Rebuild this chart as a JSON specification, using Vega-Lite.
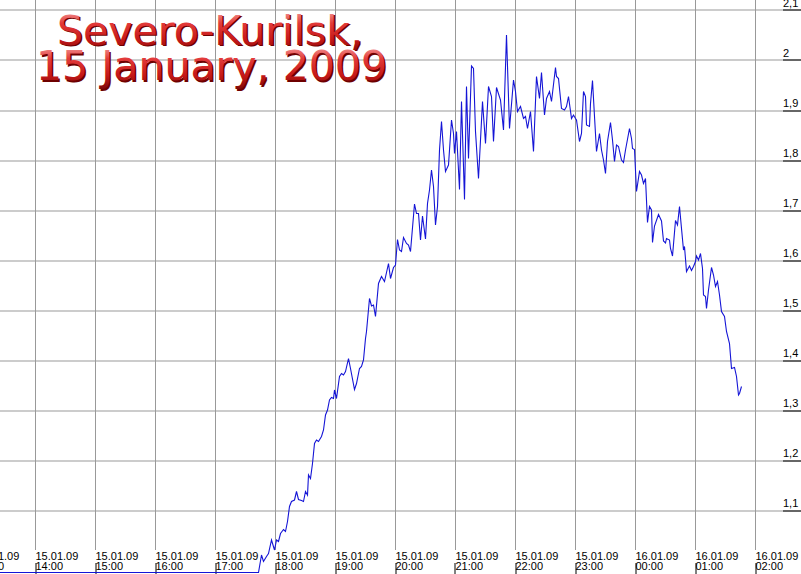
{
  "$schema": "https://vega.github.io/schema/vega-lite/v6.json",
  "width": 801,
  "height": 574,
  "autosize": {"type": "none"},
  "padding": 0,
  "background": "white",
  "config": {
    "view": {"stroke": null},
    "axis": {"translate": 0, "labelFont": "Liberation Sans", "labelFontSize": 11, "labelColor": "#000", "domain": false}
  },
  "datasets": {
    "hours": [
      {"t": "2009-01-15T14:00"}, {"t": "2009-01-15T15:00"}, {"t": "2009-01-15T16:00"}, {"t": "2009-01-15T17:00"},
      {"t": "2009-01-15T18:00"}, {"t": "2009-01-15T19:00"}, {"t": "2009-01-15T20:00"}, {"t": "2009-01-15T21:00"},
      {"t": "2009-01-15T22:00"}, {"t": "2009-01-15T23:00"}, {"t": "2009-01-16T00:00"}, {"t": "2009-01-16T01:00"},
      {"t": "2009-01-16T02:00"}
    ],
    "level": [
      {"t": "2009-01-15T13:20", "v": 0.976}, {"t": "2009-01-15T17:43", "v": 0.976}, {"t": "2009-01-15T17:46", "v": 1.011},
      {"t": "2009-01-15T17:48", "v": 0.998}, {"t": "2009-01-15T17:51", "v": 1.008}, {"t": "2009-01-15T17:53", "v": 1.014},
      {"t": "2009-01-15T17:56", "v": 1.041}, {"t": "2009-01-15T17:59", "v": 1.021}, {"t": "2009-01-15T18:01", "v": 1.041},
      {"t": "2009-01-15T18:03", "v": 1.038}, {"t": "2009-01-15T18:05", "v": 1.054}, {"t": "2009-01-15T18:08", "v": 1.062},
      {"t": "2009-01-15T18:10", "v": 1.058}, {"t": "2009-01-15T18:12", "v": 1.078}, {"t": "2009-01-15T18:14", "v": 1.108},
      {"t": "2009-01-15T18:16", "v": 1.118}, {"t": "2009-01-15T18:19", "v": 1.121}, {"t": "2009-01-15T18:21", "v": 1.138},
      {"t": "2009-01-15T18:23", "v": 1.122}, {"t": "2009-01-15T18:26", "v": 1.120}, {"t": "2009-01-15T18:28", "v": 1.118},
      {"t": "2009-01-15T18:30", "v": 1.138}, {"t": "2009-01-15T18:32", "v": 1.131}, {"t": "2009-01-15T18:33", "v": 1.171},
      {"t": "2009-01-15T18:35", "v": 1.164}, {"t": "2009-01-15T18:37", "v": 1.194}, {"t": "2009-01-15T18:39", "v": 1.234},
      {"t": "2009-01-15T18:41", "v": 1.241}, {"t": "2009-01-15T18:43", "v": 1.238}, {"t": "2009-01-15T18:46", "v": 1.248},
      {"t": "2009-01-15T18:48", "v": 1.261}, {"t": "2009-01-15T18:50", "v": 1.291}, {"t": "2009-01-15T18:52", "v": 1.301},
      {"t": "2009-01-15T18:54", "v": 1.321}, {"t": "2009-01-15T18:56", "v": 1.326}, {"t": "2009-01-15T18:58", "v": 1.324},
      {"t": "2009-01-15T18:59", "v": 1.341}, {"t": "2009-01-15T19:01", "v": 1.324}, {"t": "2009-01-15T19:04", "v": 1.368},
      {"t": "2009-01-15T19:06", "v": 1.374}, {"t": "2009-01-15T19:08", "v": 1.371}, {"t": "2009-01-15T19:10", "v": 1.378},
      {"t": "2009-01-15T19:13", "v": 1.404}, {"t": "2009-01-15T19:15", "v": 1.384}, {"t": "2009-01-15T19:19", "v": 1.342},
      {"t": "2009-01-15T19:21", "v": 1.354}, {"t": "2009-01-15T19:24", "v": 1.384}, {"t": "2009-01-15T19:26", "v": 1.388},
      {"t": "2009-01-15T19:28", "v": 1.401}, {"t": "2009-01-15T19:30", "v": 1.444}, {"t": "2009-01-15T19:31", "v": 1.458},
      {"t": "2009-01-15T19:34", "v": 1.524}, {"t": "2009-01-15T19:36", "v": 1.509}, {"t": "2009-01-15T19:38", "v": 1.511},
      {"t": "2009-01-15T19:40", "v": 1.488}, {"t": "2009-01-15T19:43", "v": 1.554}, {"t": "2009-01-15T19:46", "v": 1.568},
      {"t": "2009-01-15T19:49", "v": 1.558}, {"t": "2009-01-15T19:53", "v": 1.594}, {"t": "2009-01-15T19:55", "v": 1.564},
      {"t": "2009-01-15T19:58", "v": 1.586}, {"t": "2009-01-15T20:00", "v": 1.591}, {"t": "2009-01-15T20:02", "v": 1.642},
      {"t": "2009-01-15T20:04", "v": 1.621}, {"t": "2009-01-15T20:06", "v": 1.618}, {"t": "2009-01-15T20:08", "v": 1.646},
      {"t": "2009-01-15T20:11", "v": 1.634}, {"t": "2009-01-15T20:13", "v": 1.631}, {"t": "2009-01-15T20:15", "v": 1.618},
      {"t": "2009-01-15T20:19", "v": 1.713}, {"t": "2009-01-15T20:21", "v": 1.694}, {"t": "2009-01-15T20:23", "v": 1.694},
      {"t": "2009-01-15T20:25", "v": 1.641}, {"t": "2009-01-15T20:27", "v": 1.689}, {"t": "2009-01-15T20:30", "v": 1.643},
      {"t": "2009-01-15T20:32", "v": 1.714}, {"t": "2009-01-15T20:34", "v": 1.741}, {"t": "2009-01-15T20:36", "v": 1.781},
      {"t": "2009-01-15T20:38", "v": 1.748}, {"t": "2009-01-15T20:40", "v": 1.671}, {"t": "2009-01-15T20:42", "v": 1.708},
      {"t": "2009-01-15T20:44", "v": 1.821}, {"t": "2009-01-15T20:46", "v": 1.878}, {"t": "2009-01-15T20:48", "v": 1.821},
      {"t": "2009-01-15T20:50", "v": 1.778}, {"t": "2009-01-15T20:53", "v": 1.791}, {"t": "2009-01-15T20:56", "v": 1.881},
      {"t": "2009-01-15T20:58", "v": 1.854}, {"t": "2009-01-15T20:59", "v": 1.814}, {"t": "2009-01-15T21:01", "v": 1.858},
      {"t": "2009-01-15T21:04", "v": 1.742}, {"t": "2009-01-15T21:06", "v": 1.918}, {"t": "2009-01-15T21:09", "v": 1.722},
      {"t": "2009-01-15T21:11", "v": 1.948}, {"t": "2009-01-15T21:13", "v": 1.804}, {"t": "2009-01-15T21:16", "v": 1.989},
      {"t": "2009-01-15T21:18", "v": 1.984}, {"t": "2009-01-15T21:20", "v": 1.858}, {"t": "2009-01-15T21:23", "v": 1.764},
      {"t": "2009-01-15T21:27", "v": 1.918}, {"t": "2009-01-15T21:30", "v": 1.834}, {"t": "2009-01-15T21:33", "v": 1.948},
      {"t": "2009-01-15T21:36", "v": 1.928}, {"t": "2009-01-15T21:38", "v": 1.838}, {"t": "2009-01-15T21:41", "v": 1.946},
      {"t": "2009-01-15T21:45", "v": 1.921}, {"t": "2009-01-15T21:48", "v": 1.861}, {"t": "2009-01-15T21:51", "v": 2.051},
      {"t": "2009-01-15T21:54", "v": 1.864}, {"t": "2009-01-15T21:58", "v": 1.961}, {"t": "2009-01-15T22:00", "v": 1.938},
      {"t": "2009-01-15T22:02", "v": 1.898}, {"t": "2009-01-15T22:05", "v": 1.908}, {"t": "2009-01-15T22:08", "v": 1.884},
      {"t": "2009-01-15T22:10", "v": 1.888}, {"t": "2009-01-15T22:12", "v": 1.864}, {"t": "2009-01-15T22:15", "v": 1.898},
      {"t": "2009-01-15T22:18", "v": 1.818}, {"t": "2009-01-15T22:21", "v": 1.968}, {"t": "2009-01-15T22:24", "v": 1.924},
      {"t": "2009-01-15T22:26", "v": 1.976}, {"t": "2009-01-15T22:29", "v": 1.891}, {"t": "2009-01-15T22:31", "v": 1.924},
      {"t": "2009-01-15T22:34", "v": 1.938}, {"t": "2009-01-15T22:36", "v": 1.918}, {"t": "2009-01-15T22:40", "v": 1.986},
      {"t": "2009-01-15T22:41", "v": 1.968}, {"t": "2009-01-15T22:43", "v": 1.964}, {"t": "2009-01-15T22:46", "v": 1.904},
      {"t": "2009-01-15T22:49", "v": 1.901}, {"t": "2009-01-15T22:51", "v": 1.908}, {"t": "2009-01-15T22:53", "v": 1.928},
      {"t": "2009-01-15T22:56", "v": 1.884}, {"t": "2009-01-15T22:58", "v": 1.891}, {"t": "2009-01-15T23:00", "v": 1.884},
      {"t": "2009-01-15T23:01", "v": 1.881}, {"t": "2009-01-15T23:04", "v": 1.838}, {"t": "2009-01-15T23:06", "v": 1.854},
      {"t": "2009-01-15T23:08", "v": 1.938}, {"t": "2009-01-15T23:10", "v": 1.928}, {"t": "2009-01-15T23:11", "v": 1.871},
      {"t": "2009-01-15T23:14", "v": 1.868}, {"t": "2009-01-15T23:15", "v": 1.914}, {"t": "2009-01-15T23:17", "v": 1.960},
      {"t": "2009-01-15T23:19", "v": 1.888}, {"t": "2009-01-15T23:21", "v": 1.818}, {"t": "2009-01-15T23:24", "v": 1.854},
      {"t": "2009-01-15T23:26", "v": 1.821}, {"t": "2009-01-15T23:28", "v": 1.801}, {"t": "2009-01-15T23:30", "v": 1.774},
      {"t": "2009-01-15T23:32", "v": 1.838}, {"t": "2009-01-15T23:35", "v": 1.876}, {"t": "2009-01-15T23:37", "v": 1.841},
      {"t": "2009-01-15T23:39", "v": 1.798}, {"t": "2009-01-15T23:41", "v": 1.831}, {"t": "2009-01-15T23:43", "v": 1.828},
      {"t": "2009-01-15T23:46", "v": 1.801}, {"t": "2009-01-15T23:48", "v": 1.796}, {"t": "2009-01-15T23:50", "v": 1.821},
      {"t": "2009-01-15T23:54", "v": 1.864}, {"t": "2009-01-15T23:56", "v": 1.844}, {"t": "2009-01-15T23:57", "v": 1.824},
      {"t": "2009-01-15T23:59", "v": 1.822}, {"t": "2009-01-16T00:01", "v": 1.738}, {"t": "2009-01-16T00:04", "v": 1.778},
      {"t": "2009-01-16T00:06", "v": 1.771}, {"t": "2009-01-16T00:08", "v": 1.754}, {"t": "2009-01-16T00:10", "v": 1.764},
      {"t": "2009-01-16T00:12", "v": 1.676}, {"t": "2009-01-16T00:14", "v": 1.708}, {"t": "2009-01-16T00:16", "v": 1.701},
      {"t": "2009-01-16T00:17", "v": 1.636}, {"t": "2009-01-16T00:19", "v": 1.669}, {"t": "2009-01-16T00:23", "v": 1.692},
      {"t": "2009-01-16T00:26", "v": 1.679}, {"t": "2009-01-16T00:28", "v": 1.639}, {"t": "2009-01-16T00:30", "v": 1.635},
      {"t": "2009-01-16T00:31", "v": 1.644}, {"t": "2009-01-16T00:34", "v": 1.641}, {"t": "2009-01-16T00:35", "v": 1.624},
      {"t": "2009-01-16T00:37", "v": 1.609}, {"t": "2009-01-16T00:40", "v": 1.680}, {"t": "2009-01-16T00:42", "v": 1.671},
      {"t": "2009-01-16T00:44", "v": 1.708}, {"t": "2009-01-16T00:46", "v": 1.664}, {"t": "2009-01-16T00:48", "v": 1.621},
      {"t": "2009-01-16T00:49", "v": 1.628}, {"t": "2009-01-16T00:51", "v": 1.578}, {"t": "2009-01-16T00:54", "v": 1.589},
      {"t": "2009-01-16T00:56", "v": 1.580}, {"t": "2009-01-16T00:58", "v": 1.588}, {"t": "2009-01-16T01:00", "v": 1.598},
      {"t": "2009-01-16T01:01", "v": 1.609}, {"t": "2009-01-16T01:03", "v": 1.601}, {"t": "2009-01-16T01:05", "v": 1.614},
      {"t": "2009-01-16T01:07", "v": 1.584}, {"t": "2009-01-16T01:08", "v": 1.531}, {"t": "2009-01-16T01:10", "v": 1.528},
      {"t": "2009-01-16T01:11", "v": 1.504}, {"t": "2009-01-16T01:13", "v": 1.541}, {"t": "2009-01-16T01:16", "v": 1.586},
      {"t": "2009-01-16T01:18", "v": 1.571}, {"t": "2009-01-16T01:20", "v": 1.548}, {"t": "2009-01-16T01:22", "v": 1.558},
      {"t": "2009-01-16T01:24", "v": 1.531}, {"t": "2009-01-16T01:26", "v": 1.498}, {"t": "2009-01-16T01:29", "v": 1.488},
      {"t": "2009-01-16T01:31", "v": 1.458}, {"t": "2009-01-16T01:34", "v": 1.434}, {"t": "2009-01-16T01:36", "v": 1.384},
      {"t": "2009-01-16T01:39", "v": 1.386}, {"t": "2009-01-16T01:41", "v": 1.368}, {"t": "2009-01-16T01:43", "v": 1.331},
      {"t": "2009-01-16T01:44", "v": 1.334}, {"t": "2009-01-16T01:46", "v": 1.348}
    ]
  },
  "resolve": {"scale": {"x": "shared", "y": "shared"}},
  "layer": [
    {
      "data": {"name": "hours"},
      "mark": {"type": "rule", "color": "#999999", "strokeWidth": 1},
      "encoding": {
        "x": {"field": "t", "type": "temporal",
              "scale": {"nice": false, "domain": [{"year": 2009, "month": "jan", "date": 15, "hours": 13, "minutes": 24, "seconds": 30}, {"year": 2009, "month": "jan", "date": 16, "hours": 2, "minutes": 45, "seconds": 30}]},
              "axis": {"orient": "bottom", "title": null, "grid": false,
                       "values": [
                         {"year": 2009, "month": "jan", "date": 15, "hours": 14},
                         {"year": 2009, "month": "jan", "date": 15, "hours": 15},
                         {"year": 2009, "month": "jan", "date": 15, "hours": 16},
                         {"year": 2009, "month": "jan", "date": 15, "hours": 17},
                         {"year": 2009, "month": "jan", "date": 15, "hours": 18},
                         {"year": 2009, "month": "jan", "date": 15, "hours": 19},
                         {"year": 2009, "month": "jan", "date": 15, "hours": 20},
                         {"year": 2009, "month": "jan", "date": 15, "hours": 21},
                         {"year": 2009, "month": "jan", "date": 15, "hours": 22},
                         {"year": 2009, "month": "jan", "date": 15, "hours": 23},
                         {"year": 2009, "month": "jan", "date": 16, "hours": 0},
                         {"year": 2009, "month": "jan", "date": 16, "hours": 1},
                         {"year": 2009, "month": "jan", "date": 16, "hours": 2}
                       ],
                       "labelExpr": "[timeFormat(datum.value, '%d.%m.%y'), timeFormat(datum.value, '%H:%M')]",
                       "labelAlign": "left", "labelBaseline": "top", "labelPadding": -12, "labelDx": 1,
                       "labelLineHeight": 10, "labelOverlap": false, "labelFlush": false, "labelBound": false,
                       "ticks": true, "tickSize": -11, "tickColor": "#000000", "tickWidth": 1}},
        "y": {"datum": 2.13, "type": "quantitative",
              "scale": {"nice": false, "zero": false, "domain": [0.973, 2.121]},
              "axis": {"orient": "right", "title": null, "grid": true, "gridColor": "#999999", "gridWidth": 1,
                       "values": [1.1, 1.2, 1.3, 1.4, 1.5, 1.6, 1.7, 1.8, 1.9, 2.0, 2.1],
                       "labelExpr": "replace(format(datum.value, '.1~f'), '.', ',')",
                       "labelAlign": "left", "labelBaseline": "alphabetic", "labelPadding": 0, "labelOffset": -4,
                       "labelOverlap": false, "labelFlush": false,
                       "ticks": true, "tickSize": -18, "tickColor": "#000000", "tickWidth": 1}},
        "y2": {"datum": 1.021}
      }
    },
    {
      "data": {"name": "level"},
      "mark": {"type": "line", "color": "#1515d6", "strokeWidth": 1.1, "clip": true},
      "encoding": {
        "x": {"field": "t", "type": "temporal"},
        "y": {"field": "v", "type": "quantitative"}
      }
    },
    {
      "data": {"values": [{"label": "15.01.09\n13:00"}]},
      "mark": {"type": "text", "font": "Liberation Sans", "fontSize": 11, "color": "#000000", "align": "left", "baseline": "top", "dx": 1, "lineBreak": "\n", "lineHeight": 10},
      "encoding": {
        "x": {"datum": {"year": 2009, "month": "jan", "date": 15, "hours": 13}, "type": "temporal"},
        "y": {"datum": 1.019, "type": "quantitative"},
        "text": {"field": "label"}
      }
    },
    {
      "data": {"values": [{"label": "Severo-Kurilsk,"}]},
      "mark": {"type": "text", "font": "DejaVu Sans", "fontSize": 41, "align": "center", "baseline": "alphabetic", "dx": 1.5, "dy": 1.5, "color": "#6e0000"},
      "encoding": {
        "x": {"datum": {"year": 2009, "month": "jan", "date": 15, "hours": 16, "minutes": 54, "seconds": 30}, "type": "temporal"},
        "y": {"datum": 2.032, "type": "quantitative"},
        "text": {"field": "label"}
      }
    },
    {
      "data": {"values": [{"label": "Severo-Kurilsk,"}]},
      "mark": {"type": "text", "font": "DejaVu Sans", "fontSize": 41, "align": "center", "baseline": "alphabetic",
               "color": {"gradient": "linear", "x1": 0, "y1": 0, "x2": 0, "y2": 1,
                         "stops": [{"offset": 0, "color": "#f6b4b4"}, {"offset": 0.35, "color": "#e23a3a"}, {"offset": 0.7, "color": "#c41818"}, {"offset": 1, "color": "#7a0808"}]}},
      "encoding": {
        "x": {"datum": {"year": 2009, "month": "jan", "date": 15, "hours": 16, "minutes": 54, "seconds": 30}, "type": "temporal"},
        "y": {"datum": 2.032, "type": "quantitative"},
        "text": {"field": "label"}
      }
    },
    {
      "data": {"values": [{"label": "15 January, 2009"}]},
      "mark": {"type": "text", "font": "DejaVu Sans", "fontSize": 41, "align": "center", "baseline": "alphabetic", "dx": 1.5, "dy": 1.5, "color": "#6e0000"},
      "encoding": {
        "x": {"datum": {"year": 2009, "month": "jan", "date": 15, "hours": 16, "minutes": 56}, "type": "temporal"},
        "y": {"datum": 1.961, "type": "quantitative"},
        "text": {"field": "label"}
      }
    },
    {
      "data": {"values": [{"label": "15 January, 2009"}]},
      "mark": {"type": "text", "font": "DejaVu Sans", "fontSize": 41, "align": "center", "baseline": "alphabetic",
               "color": {"gradient": "linear", "x1": 0, "y1": 0, "x2": 0, "y2": 1,
                         "stops": [{"offset": 0, "color": "#f6b4b4"}, {"offset": 0.35, "color": "#e23a3a"}, {"offset": 0.7, "color": "#c41818"}, {"offset": 1, "color": "#7a0808"}]}},
      "encoding": {
        "x": {"datum": {"year": 2009, "month": "jan", "date": 15, "hours": 16, "minutes": 56}, "type": "temporal"},
        "y": {"datum": 1.961, "type": "quantitative"},
        "text": {"field": "label"}
      }
    }
  ]
}
